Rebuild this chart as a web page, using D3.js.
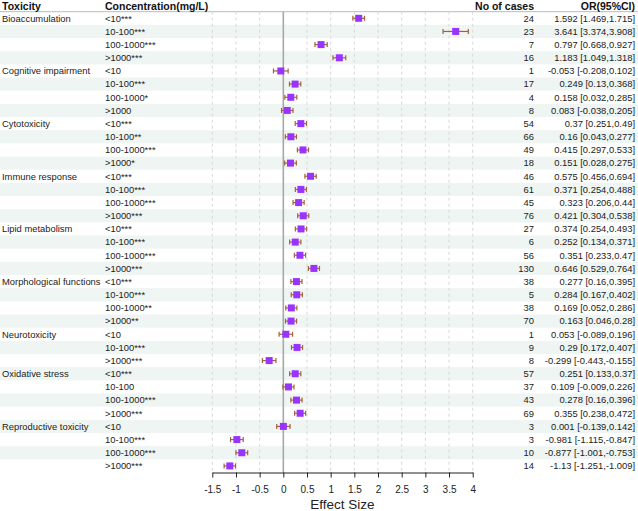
<!DOCTYPE html>
<html>
<head>
<meta charset="utf-8">
<script src="https://cdn.jsdelivr.net/npm/d3@7"></script>
<style>
  body { margin: 0; background: #fff; }
  text { font-family: "Liberation Sans", Arial, sans-serif; fill: #222; }
</style>
</head>
<body>
<div class="chart-container"></div>
<script>
// --- Data ---
const toxicity = [
    "Bioaccumulation", "", "", "",
    "Cognitive impairment", "", "", "",
    "Cytotoxicity", "", "", "",
    "Immune response", "", "", "",
    "Lipid metabolism", "", "", "",
    "Morphological functions", "", "", "",
    "Neurotoxicity", "", "",
    "Oxidative stress", "", "", "",
    "Reproductive toxicity", "", "", ""
];
const concentration = [
    "<10***", "10-100***", "100-1000***", ">1000***",
    "<10", "10-100***", "100-1000*", ">1000",
    "<10***", "10-100**", "100-1000***", ">1000*",
    "<10***", "10-100***", "100-1000***", ">1000***",
    "<10***", "10-100***", "100-1000***", ">1000***",
    "<10***", "10-100***", "100-1000**", ">1000**",
    "<10", "10-100***", ">1000***",
    "<10***", "10-100", "100-1000***", ">1000***",
    "<10", "10-100***", "100-1000***", ">1000***"
];
const cases = [24, 23, 7, 16, 1, 17, 4, 8, 54, 66, 49, 18, 46, 61, 45, 76,
    27, 6, 56, 130, 38, 5, 38, 70, 1, 9, 8, 57, 37, 43, 69, 3, 3, 10, 14];
const effect = [1.592, 3.641, 0.797, 1.183, -0.053, 0.249, 0.158, 0.083,
    0.37, 0.16, 0.415, 0.151, 0.575, 0.371, 0.323, 0.421,
    0.374, 0.252, 0.351, 0.646, 0.277, 0.284, 0.169, 0.163,
    0.053, 0.29, -0.299, 0.251, 0.109, 0.278, 0.355,
    0.001, -0.981, -0.877, -1.13];
const lower = [1.469, 3.374, 0.668, 1.049, -0.208, 0.13, 0.032, -0.038,
    0.251, 0.043, 0.297, 0.028, 0.456, 0.254, 0.206, 0.304,
    0.254, 0.134, 0.233, 0.529, 0.16, 0.167, 0.052, 0.046,
    -0.089, 0.172, -0.443, 0.133, -0.009, 0.16, 0.238,
    -0.139, -1.115, -1.001, -1.251];
const upper = [1.715, 3.908, 0.927, 1.318, 0.102, 0.368, 0.285, 0.205,
    0.49, 0.277, 0.533, 0.275, 0.694, 0.488, 0.44, 0.538,
    0.493, 0.371, 0.47, 0.764, 0.395, 0.402, 0.286, 0.28,
    0.196, 0.407, -0.155, 0.37, 0.226, 0.396, 0.472,
    0.142, -0.847, -0.753, -1.009];
const xTicks = [-1.5, -1, -0.5, 0, 0.5, 1, 1.5, 2, 2.5, 3, 3.5, 4];

// --- Configuration ---
const w = 638;
const h = 511;
const topY = 11.7;
const axisY = 472.5;

const rows = effect.map(function (d, i) {
    return {
        i: i, tox: toxicity[i], conc: concentration[i], n: cases[i],
        est: d, lo: lower[i], hi: upper[i]
    };
});

const xScale = d3.scaleLinear()
    .domain([-1.5, 4])
    .range([212.3, 472.7]);

const yScale = d3.scaleBand()
    .domain(rows.map(function (d) { return d.i; }))
    .range([topY, axisY])
    .padding(0);

const svg = d3.select(".chart-container")
    .append("svg")
    .attr("width", w)
    .attr("height", h);

// row shading
svg.selectAll("rect.band")
    .data(rows.filter(function (d) { return d.i % 2 === 1; }))
    .enter()
    .append("rect")
    .attr("class", "band")
    .attr("x", 0)
    .attr("y", function (d) { return yScale(d.i); })
    .attr("width", w)
    .attr("height", yScale.bandwidth())
    .attr("fill", "#eff5f2");

// header separator
svg.append("line")
    .attr("x1", 0).attr("x2", w)
    .attr("y1", topY).attr("y2", topY)
    .attr("stroke", "#bbb")
    .attr("stroke-width", 1);

// vertical grid
svg.selectAll("line.grid")
    .data(xTicks.filter(function (d) { return d !== 0; }))
    .enter()
    .append("line")
    .attr("class", "grid")
    .attr("x1", function (d) { return xScale(d); })
    .attr("x2", function (d) { return xScale(d); })
    .attr("y1", topY)
    .attr("y2", axisY)
    .attr("stroke", "#d8d8d8")
    .attr("stroke-dasharray", "3,3");

svg.append("line")
    .attr("x1", xScale(0)).attr("x2", xScale(0))
    .attr("y1", topY).attr("y2", axisY)
    .attr("stroke", "#a8a8a8")
    .attr("stroke-width", 1.6);

// headers
const headers = [
    { t: "Toxicity", x: 2, a: "start" },
    { t: "Concentration(mg/L)", x: 105, a: "start" },
    { t: "No of cases", x: 534, a: "end" },
    { t: "OR(95%CI)", x: 635, a: "end" }
];
svg.selectAll("text.head")
    .data(headers)
    .enter()
    .append("text")
    .attr("class", "head")
    .attr("x", function (d) { return d.x; })
    .attr("y", 9.5)
    .attr("text-anchor", function (d) { return d.a; })
    .attr("font-size", "10.5px")
    .attr("font-weight", "bold")
    .style("fill", "#111")
    .text(function (d) { return d.t; });

// table columns
function column(cls, x, anchor, fn) {
    svg.selectAll("text." + cls)
        .data(rows)
        .enter()
        .append("text")
        .attr("class", cls)
        .attr("x", x)
        .attr("y", function (d) { return yScale(d.i) + yScale.bandwidth() / 2; })
        .attr("dy", "0.36em")
        .attr("text-anchor", anchor)
        .attr("font-size", "9.4px")
        .text(fn);
}
column("tox", 2, "start", function (d) { return d.tox; });
column("conc", 105, "start", function (d) { return d.conc; });
column("cases", 534, "end", function (d) { return d.n; });
column("or", 635, "end", function (d) {
    return d.est + " [" + d.lo + "," + d.hi + "]";
});

// error bars
const cy = function (d) { return yScale(d.i) + yScale.bandwidth() / 2; };
const bars = svg.append("g").attr("stroke", "#a5603a").attr("stroke-width", 1.2);
bars.selectAll("line.ci")
    .data(rows)
    .enter()
    .append("line")
    .attr("class", "ci")
    .attr("x1", function (d) { return xScale(d.lo); })
    .attr("x2", function (d) { return xScale(d.hi); })
    .attr("y1", cy)
    .attr("y2", cy);
["lo", "hi"].forEach(function (k) {
    bars.selectAll("line.cap-" + k)
        .data(rows)
        .enter()
        .append("line")
        .attr("class", "cap-" + k)
        .attr("x1", function (d) { return xScale(d[k]); })
        .attr("x2", function (d) { return xScale(d[k]); })
        .attr("y1", function (d) { return cy(d) - 2.5; })
        .attr("y2", function (d) { return cy(d) + 2.5; });
});

// points
svg.selectAll("rect.pt")
    .data(rows)
    .enter()
    .append("rect")
    .attr("class", "pt")
    .attr("x", function (d) { return xScale(d.est) - 3.5; })
    .attr("y", function (d) { return cy(d) - 3.5; })
    .attr("width", 7)
    .attr("height", 7)
    .attr("fill", "#9933ff");

// x axis
const xAxis = d3.axisBottom(xScale)
    .tickValues(xTicks)
    .tickSize(5)
    .tickSizeOuter(0)
    .tickFormat(function (d) { return String(d); });

const gx = svg.append("g")
    .attr("transform", "translate(0," + axisY + ")")
    .call(xAxis);
gx.selectAll("text")
    .attr("font-size", "10px")
    .attr("dy", "1.2em")
    .style("font-family", "'Liberation Sans', Arial, sans-serif")
    .style("fill", "#222");
gx.selectAll("path, line").attr("stroke", "#222");

svg.append("text")
    .attr("x", (xScale(-1.5) + xScale(4)) / 2)
    .attr("y", 508.5)
    .attr("text-anchor", "middle")
    .attr("font-size", "13.5px")
    .text("Effect Size");
</script>
</body>
</html>
